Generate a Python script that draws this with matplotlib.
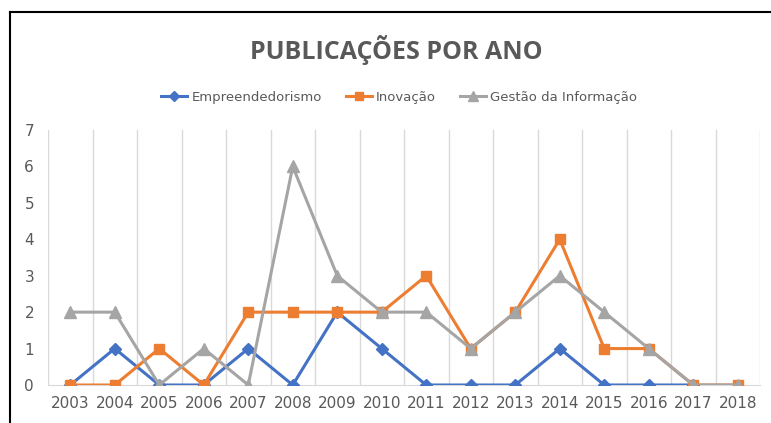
import matplotlib.pyplot as plt
import numpy as np

# Data
years = ["2003", "2004", "2005", "2006", "2007", "2008", "2009", "2010",
         "2011", "2012", "2013", "2014", "2015", "2016", "2017", "2018"]
empreendedorismo = [0, 1, 0, 0, 1, 0, 2, 1, 0, 0, 0, 1, 0, 0, 0, np.nan]
inovacao = [0, 0, 1, 0, 2, 2, 2, 2, 3, 1, 2, 4, 1, 1, 0, 0]
gestao = [2, 2, 0, 1, 0, 6, 3, 2, 2, 1, 2, 3, 2, 1, 0, 0]

fig = plt.figure(figsize=(7.71, 4.23), dpi=100)
fig.patch.set_facecolor("white")

# frame like the cropped chart border
fig.add_artist(plt.Line2D([10/771, 10/771], [0, 1 - 12/423], color="black", lw=1.5))
fig.add_artist(plt.Line2D([10/771, 1], [1 - 12/423, 1 - 12/423], color="black", lw=1.5))

ax = fig.add_axes([48/771, 38/423, 712/771, 255/423])
x = np.arange(len(years))

ax.plot(x, empreendedorismo, color="#4472C4", lw=2.2, marker="D", ms=6,
        label="Empreendedorismo", zorder=3)
ax.plot(x, inovacao, color="#ED7D31", lw=2.2, marker="s", ms=7,
        label="Inovação", zorder=4)
ax.plot(x, gestao, color="#A5A5A5", lw=2.2, marker="^", ms=8,
        label="Gestão da Informação", zorder=5)

ax.set_xlim(-0.5, len(years) - 0.5)
ax.set_ylim(0, 7)
ax.set_xticks(x)
ax.set_xticklabels(years, fontsize=11, color="#595959")
ax.set_yticks(range(0, 8))
ax.tick_params(axis="y", labelsize=11, labelcolor="#595959", length=0, pad=10)
ax.tick_params(axis="x", length=0, pad=8)

# vertical gridlines between categories
ax.set_xticks(np.arange(-0.5, len(years)), minor=True)
ax.grid(which="minor", axis="x", color="#D9D9D9", lw=1)
ax.tick_params(which="minor", length=0)
for s in ["top", "right", "left"]:
    ax.spines[s].set_visible(False)
ax.spines["bottom"].set_color("#D9D9D9")

fig.text(396/771, 1 - 50/423, "PUBLICAÇÕES POR ANO", ha="center", va="center",
         fontsize=18, fontweight="bold", color="#595959", family="Open Sans")

fig.legend(loc="center", bbox_to_anchor=(399/771, 1 - 97/423), ncol=3,
           frameon=False, fontsize=9.5, labelcolor="#595959", handlelength=2.0,
           columnspacing=1.8, handletextpad=0.3, markerscale=0.85)

fig.savefig("out.png", dpi=100)
